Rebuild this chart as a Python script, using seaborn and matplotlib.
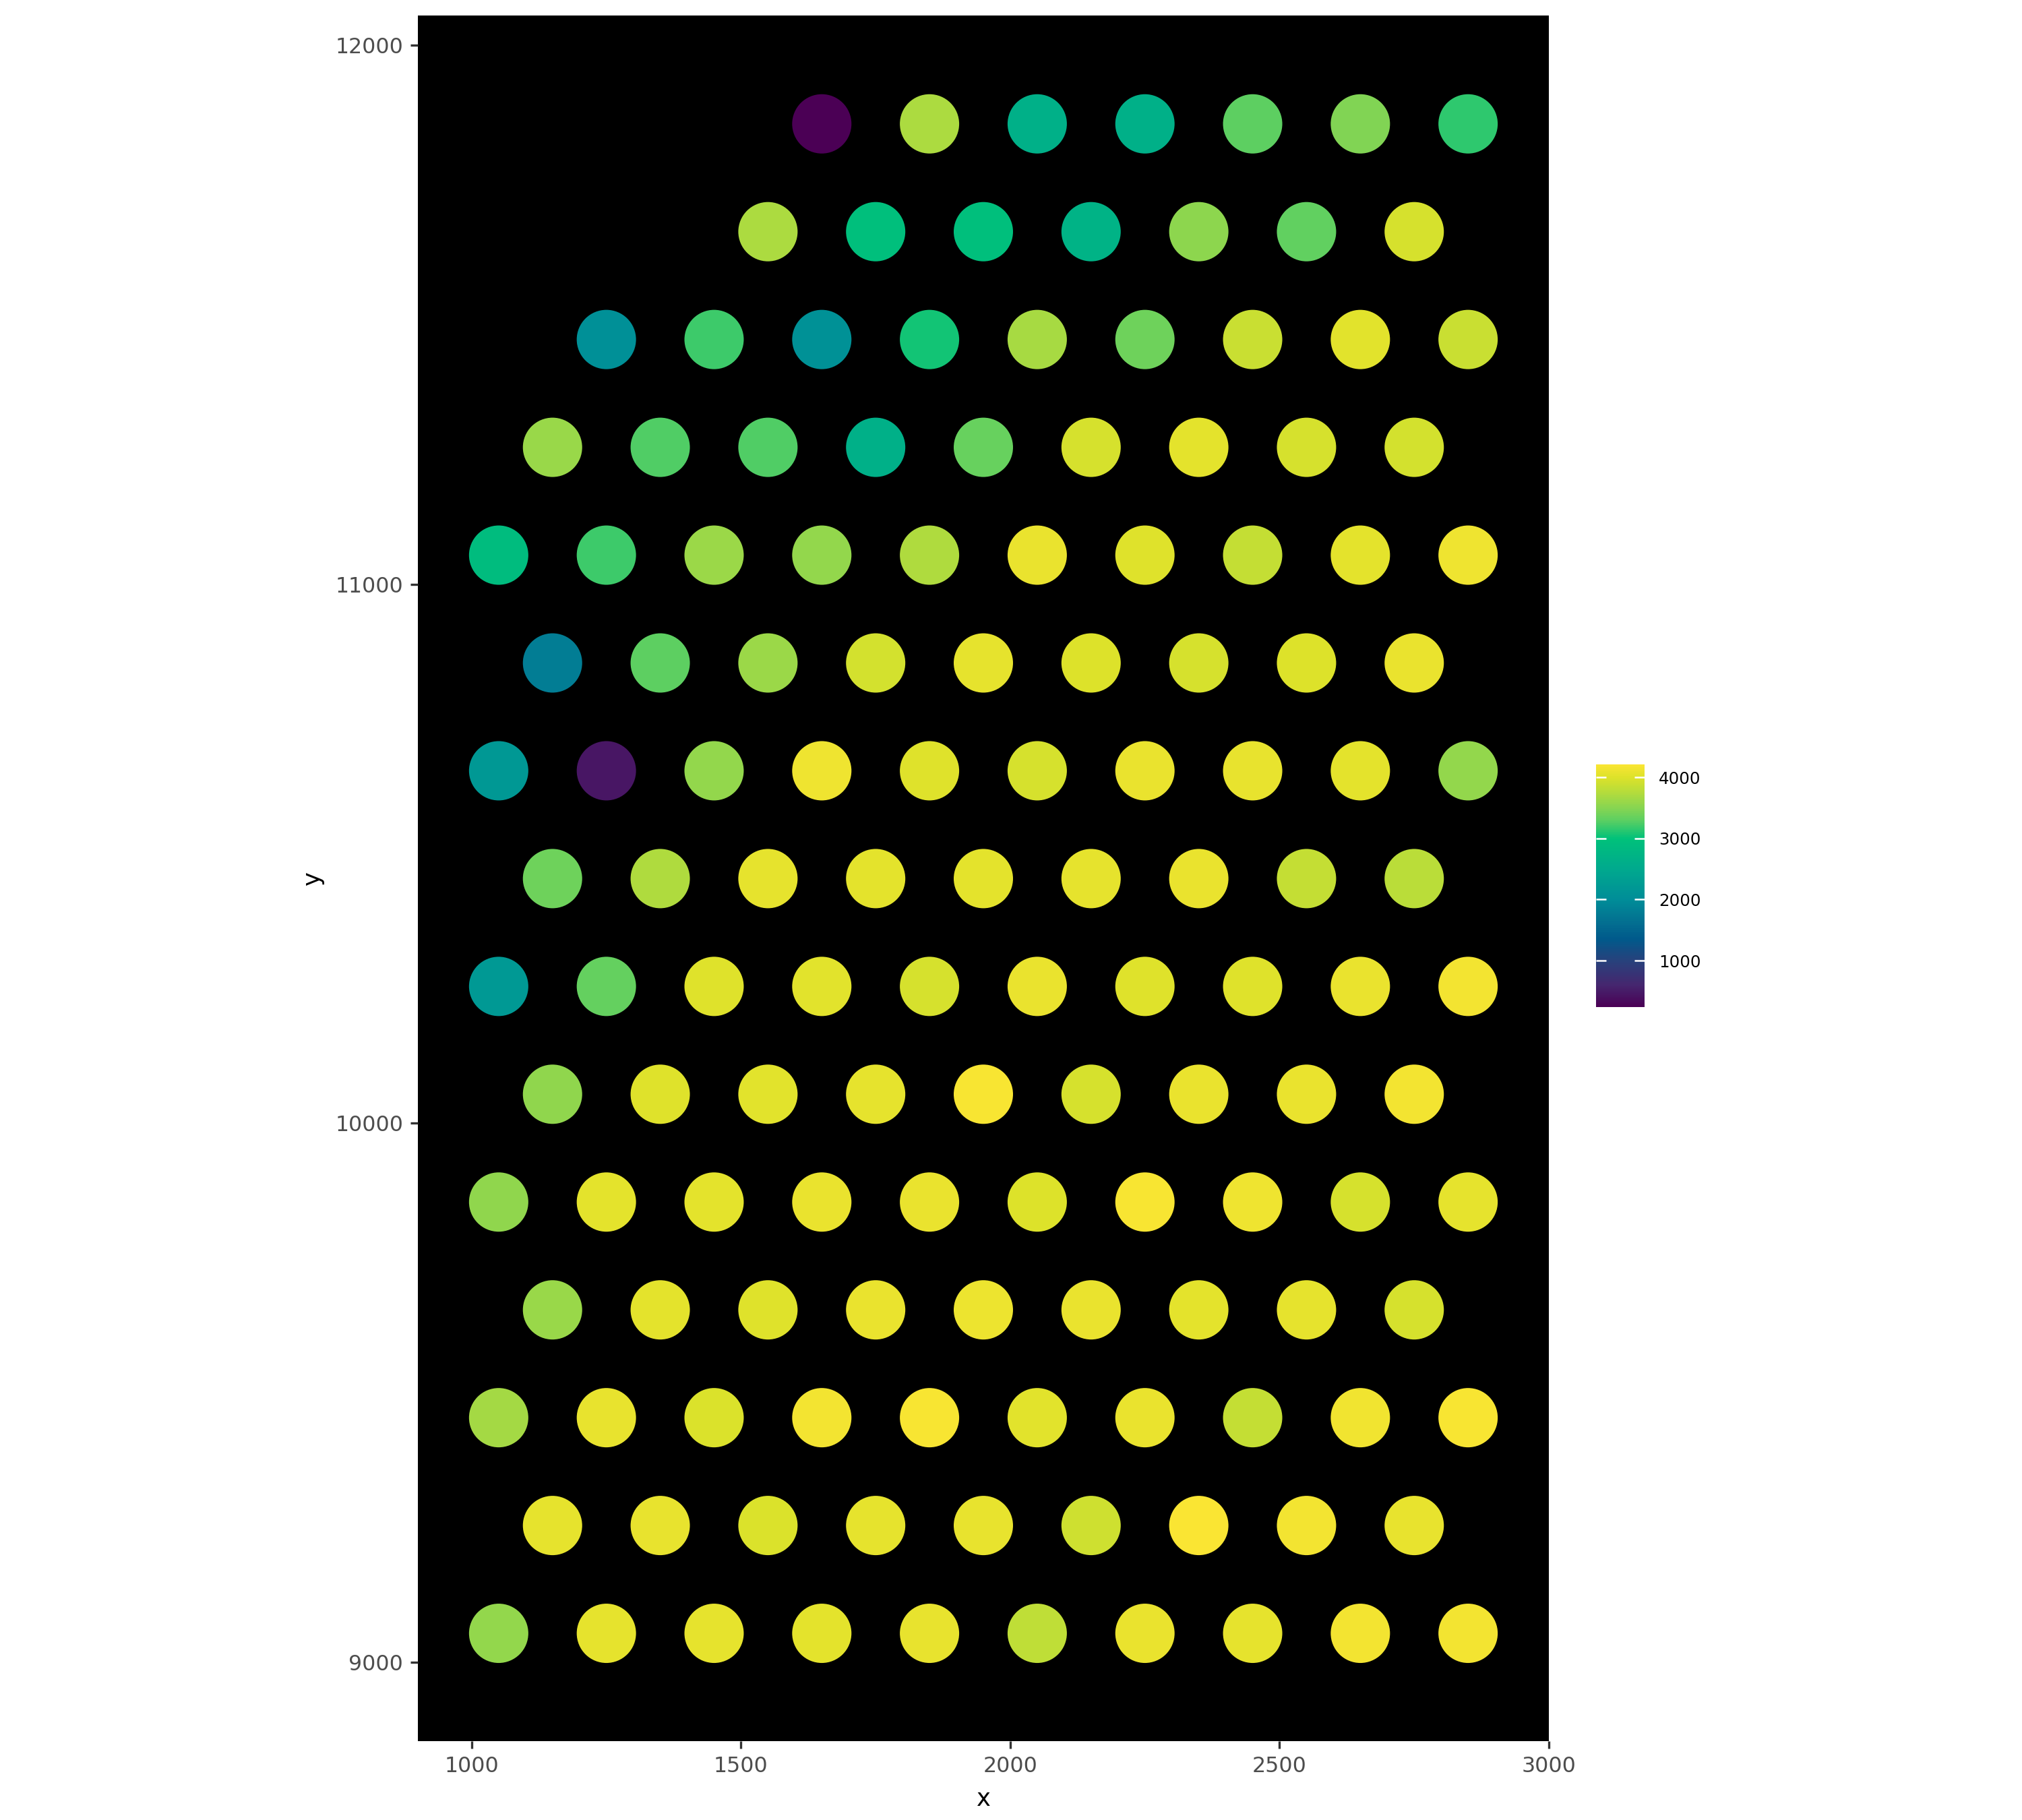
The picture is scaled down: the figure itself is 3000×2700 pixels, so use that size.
import numpy as np
import pandas as pd
import matplotlib
matplotlib.use("Agg")
import matplotlib.pyplot as plt
import seaborn as sns
from matplotlib.colors import LinearSegmentedColormap, Normalize
from matplotlib.cm import ScalarMappable

# spot grid: one entry per row, top to bottom
row_y = [11854, 11654, 11454, 11254, 11054, 10854, 10654, 10454,
         10254, 10054, 9854, 9654, 9454, 9254, 9054]
row_x0 = [1650, 1550, 1250, 1150, 1050, 1150, 1050, 1150,
          1050, 1150, 1050, 1150, 1050, 1150, 1050]
spot_step = 200

row_vals = [
    [240, 3700, 2650, 2650, 3300, 3480, 3150],
    [3700, 2950, 2950, 2700, 3530, 3320, 3950],
    [2050, 3200, 2080, 3050, 3680, 3380, 3880, 4030, 3880],
    [3600, 3250, 3250, 2650, 3350, 3950, 4050, 3950, 3940],
    [2900, 3200, 3610, 3570, 3720, 4100, 4020, 3850, 4040, 4130],
    [1800, 3300, 3620, 3940, 4060, 4000, 3960, 4000, 4090],
    [2200, 450, 3570, 4120, 4020, 3950, 4090, 4080, 4040, 3570],
    [3380, 3720, 4060, 4050, 4040, 4060, 4090, 3840, 3780],
    [2220, 3330, 4020, 4030, 3950, 4100, 4010, 4020, 4100, 4150],
    [3550, 4020, 4030, 4060, 4190, 3950, 4100, 4100, 4160],
    [3550, 4040, 4040, 4090, 4090, 4000, 4190, 4130, 3960, 4060],
    [3600, 4050, 4020, 4100, 4110, 4090, 4040, 4060, 3950],
    [3660, 4080, 3990, 4150, 4190, 4030, 4090, 3840, 4140, 4190],
    [4060, 4080, 3990, 4060, 4080, 3900, 4210, 4160, 4080],
    [3570, 4070, 4060, 4040, 4080, 3820, 4090, 4060, 4150, 4160],
]

xs, ys, vs = [], [], []
for y0, x0, vals in zip(row_y, row_x0, row_vals):
    for i, v in enumerate(vals):
        xs.append(x0 + i * spot_step)
        ys.append(y0)
        vs.append(v)
df = pd.DataFrame({"x": xs, "y": ys, "value": vs})

stops = [240, 600, 1000, 1350, 1600, 2000, 2500, 3000, 3300, 3500, 3800, 4000, 4210]
stop_cols = ["#4b0055", "#45276f", "#27427c", "#00598b", "#036d90", "#008d98",
             "#00a98e", "#00c17a", "#5ccf62", "#86d552", "#bcdd38", "#dce22a", "#fae533"]
vmin, vmax = min(vs), max(vs)
pos = [(s - vmin) / (vmax - vmin) for s in stops]
cmap = LinearSegmentedColormap.from_list("spot", list(zip(pos, stop_cols)))
norm = Normalize(vmin=vmin, vmax=vmax)

fig = plt.figure(figsize=(10, 9), dpi=300)
ax = fig.add_axes([620 / 3000, 1 - 2583 / 2700, (2298 - 620) / 3000, (2583 - 23) / 2700])
ax.set_facecolor("black")

sns.scatterplot(data=df, x="x", y="y", hue="value", palette=cmap, hue_norm=norm,
                s=446, linewidth=0, legend=False, ax=ax)

ax.set_xlim(900, 3000)
ax.set_ylim(8854, 12055)
ax.set_xticks([1000, 1500, 2000, 2500, 3000])
ax.set_yticks([9000, 10000, 11000, 12000])
for sp in ax.spines.values():
    sp.set_visible(False)
ax.tick_params(axis="both", labelsize=7.6, labelcolor="#4d4d4d", color="#333333",
               length=2.6, width=0.8, pad=2.6)
ax.set_xlabel("x", fontsize=8.5, color="black", labelpad=4)
ax.set_ylabel("y", fontsize=8.5, color="black", labelpad=4)

# colorbar
cax = fig.add_axes([2368 / 3000, 1 - 1494 / 2700, 72 / 3000, 360 / 2700])
cb = fig.colorbar(ScalarMappable(norm=norm, cmap=cmap), cax=cax)
cb.outline.set_visible(False)
cb.set_ticks([1000, 2000, 3000, 4000])
cax.yaxis.set_ticks_position("both")
cax.tick_params(axis="y", direction="in", color="white", length=3.6, width=0.6,
                labelsize=5.9, labelcolor="black", labelright=True, labelleft=False, pad=5)

fig.savefig("out.png", dpi=300, facecolor="white")
plt.close(fig)
